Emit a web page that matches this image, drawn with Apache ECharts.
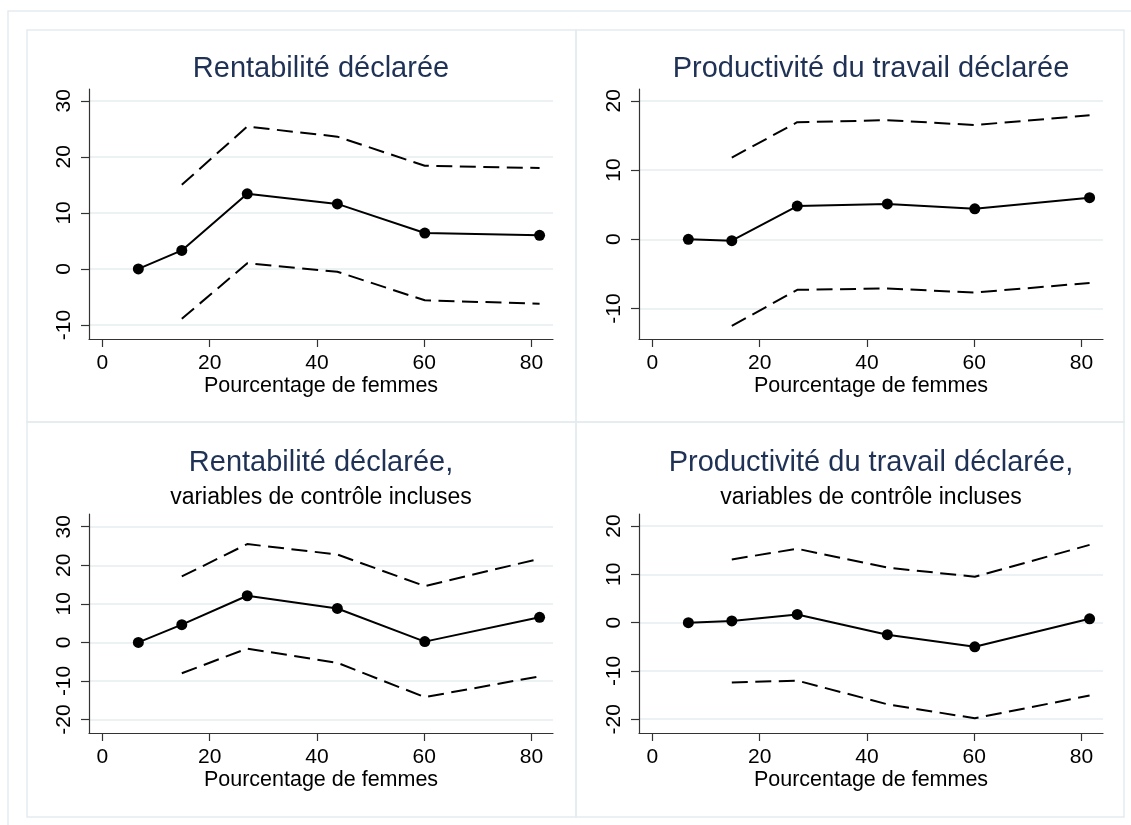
<!DOCTYPE html>
<html>
<head>
<meta charset="utf-8">
<script src="https://cdn.jsdelivr.net/npm/echarts@6/dist/echarts.min.js"></script>
<style>
  html, body { margin: 0; padding: 0; background: #fff; }
  #chart { width: 1131px; height: 825px; }
</style>
</head>
<body>
<div id="chart"></div>
<script>
// share of women per group (same x in every panel)
const pctFemmes = [6.7, 14.8, 27.0, 43.8, 60.1, 81.5]
const xTicks = [0, 20, 40, 60, 80]

// Rentabilité déclarée
const rentEst = [0, 3.3, 13.4, 11.6, 6.4, 6.0]
const rentHaut = [null, 15.0, 25.4, 23.6, 18.4, 18.0]
const rentBas = [null, -8.9, 1.0, -0.5, -5.6, -6.2]

// Productivité du travail déclarée
const prodEst = [0, -0.2, 4.8, 5.1, 4.4, 6.0]
const prodHaut = [null, 11.8, 16.9, 17.2, 16.5, 17.9]
const prodBas = [null, -12.5, -7.3, -7.1, -7.7, -6.3]

// Rentabilité, variables de contrôle incluses
const rentCtrlEst = [0, 4.6, 12.1, 8.8, 0.2, 6.5]
const rentCtrlHaut = [null, 17.1, 25.5, 22.8, 14.6, 21.7]
const rentCtrlBas = [null, -8.0, -1.6, -5.3, -14.2, -8.8]

// Productivité, variables de contrôle incluses
const prodCtrlEst = [0, 0.35, 1.7, -2.5, -5.0, 0.8]
const prodCtrlHaut = [null, 13.1, 15.3, 11.4, 9.5, 16.1]
const prodCtrlBas = [null, -12.4, -12.0, -16.9, -19.8, -15.1]

const yTicksRent = [-10, 0, 10, 20, 30]
const yTicksProd = [-10, 0, 10, 20]
const yTicksRentCtrl = [-20, -10, 0, 10, 20, 30]
const yTicksProdCtrl = [-20, -10, 0, 10, 20]

const titleColor = '#1f3256'
const font = '"Liberation Sans", Arial, sans-serif'
const borderColor = '#e3ebef'
const gridColor = '#e6edf1'

const panels = [
  { title: 'Rentabilité déclarée', sub: null, left: 89, top: 89, height: 250,
    min: -12.5, max: 32.1, ticks: yTicksRent, est: rentEst, hi: rentHaut, lo: rentBas },
  { title: 'Productivité du travail déclarée', sub: null, left: 639, top: 89, height: 250,
    min: -14.4, max: 21.7, ticks: yTicksProd, est: prodEst, hi: prodHaut, lo: prodBas },
  { title: 'Rentabilité déclarée,', sub: 'variables de contrôle incluses', left: 89, top: 514, height: 219,
    min: -23.5, max: 33.3, ticks: yTicksRentCtrl, est: rentCtrlEst, hi: rentCtrlHaut, lo: rentCtrlBas },
  { title: 'Productivité du travail déclarée,', sub: 'variables de contrôle incluses', left: 639, top: 514, height: 219,
    min: -22.85, max: 22.5, ticks: yTicksProdCtrl, est: prodCtrlEst, hi: prodCtrlHaut, lo: prodCtrlBas }
]
const plotWidth = 464

const toPairs = (vals) => {
  const out = []
  vals.forEach((v, i) => {
    if (v !== null) out.push([pctFemmes[i], v])
  })
  return out
}

const grid = []
const xAxis = []
const yAxis = []
const series = []
const title = []

panels.forEach((p, i) => {
  grid.push({ left: p.left, top: p.top, width: plotWidth, height: p.height, containLabel: false })
  const cx = p.left + plotWidth / 2

  if (p.sub) {
    title.push({ text: p.title, left: cx, top: 463, textAlign: 'center', textVerticalAlign: 'middle', padding: 0,
      textStyle: { fontFamily: font, fontSize: 29, fontWeight: 'normal', color: titleColor } })
    title.push({ text: p.sub, left: cx, top: 498, textAlign: 'center', textVerticalAlign: 'middle', padding: 0,
      textStyle: { fontFamily: font, fontSize: 23, fontWeight: 'normal', color: '#000' } })
  } else {
    title.push({ text: p.title, left: cx, top: 69, textAlign: 'center', textVerticalAlign: 'middle', padding: 0,
      textStyle: { fontFamily: font, fontSize: 29, fontWeight: 'normal', color: titleColor } })
  }

  xAxis.push({
    type: 'value', gridIndex: i, min: -2.5, max: 84,
    name: 'Pourcentage de femmes', nameLocation: 'middle', nameGap: 36,
    nameTextStyle: { fontFamily: font, fontSize: 21.5, color: '#000' },
    axisLine: { show: true, onZero: false, lineStyle: { color: '#333', width: 1.2 } },
    axisTick: { show: true, length: 8, customValues: xTicks, lineStyle: { color: '#333', width: 1.2 } },
    axisLabel: { customValues: xTicks, margin: 14, fontFamily: font, fontSize: 21, color: '#000' },
    splitLine: { show: false }
  })

  yAxis.push({
    type: 'value', gridIndex: i, min: p.min, max: p.max,
    axisLine: { show: true, onZero: false, lineStyle: { color: '#333', width: 1.2 } },
    axisTick: { show: true, length: 8, customValues: p.ticks, lineStyle: { color: '#333', width: 1.2 } },
    axisLabel: { customValues: p.ticks, rotate: 90, margin: 14, fontFamily: font, fontSize: 21, color: '#000' },
    splitLine: { show: true, lineStyle: { color: gridColor, width: 1.6 } }
  })

  const dashed = { color: '#000', width: 2, type: [16, 7.5] }
  series.push({
    type: 'line', xAxisIndex: i, yAxisIndex: i, data: toPairs(p.hi),
    symbol: 'none', lineStyle: dashed, silent: true, animation: false
  })
  series.push({
    type: 'line', xAxisIndex: i, yAxisIndex: i, data: toPairs(p.lo),
    symbol: 'none', lineStyle: dashed, silent: true, animation: false
  })
  series.push({
    type: 'line', xAxisIndex: i, yAxisIndex: i, data: toPairs(p.est),
    symbol: 'circle', symbolSize: 11, itemStyle: { color: '#000' },
    lineStyle: { color: '#000', width: 2 }, silent: true, animation: false
  })
})

// panel frames as in the original figure
const frame = (x, y, w, h) => ({
  type: 'rect', silent: true, z: -1,
  shape: { x, y, width: w, height: h },
  style: { fill: 'none', stroke: borderColor, lineWidth: 1.5 }
})

const chart = echarts.init(document.getElementById('chart'), null, { renderer: 'canvas' })
chart.setOption({
  animation: false,
  backgroundColor: '#fff',
  title,
  grid,
  xAxis,
  yAxis,
  series,
  graphic: [
    frame(8, 11, 1140, 840),
    frame(27, 30, 549, 392),
    frame(576, 30, 548, 392),
    frame(27, 422, 549, 395),
    frame(576, 422, 548, 395)
  ]
})
</script>
</body>
</html>
